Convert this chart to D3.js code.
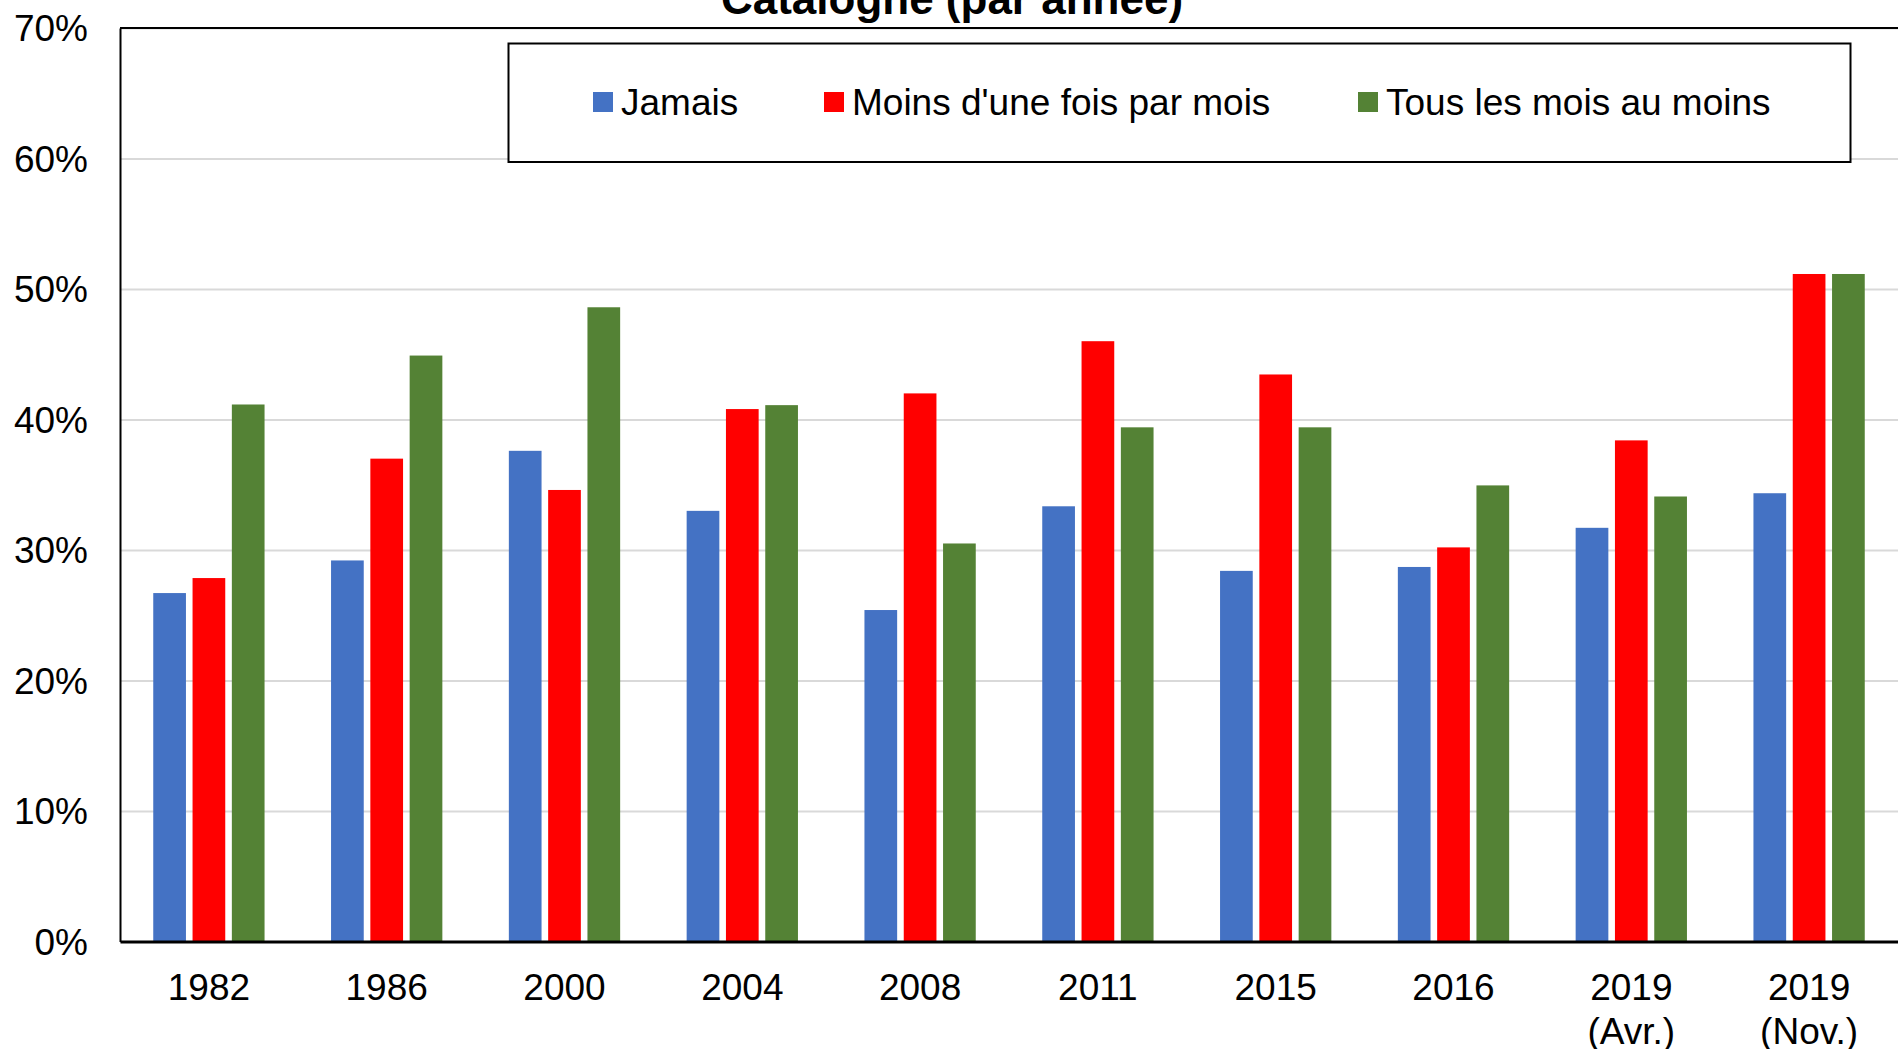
<!DOCTYPE html>
<html>
<head>
<meta charset="utf-8">
<script src="https://cdn.jsdelivr.net/npm/d3@7"></script>
<style>
    body { margin: 0; background: #fff; }
    text { font-family: "Liberation Sans", Arial, sans-serif; fill: #000; }
</style>
</head>
<body>
<div id="chart-container"></div>
<script>
// Data
var categories = ["1982", "1986", "2000", "2004", "2008", "2011", "2015", "2016", "2019\n(Avr.)", "2019\n(Nov.)"];
var series = ["Jamais", "Moins d'une fois par mois", "Tous les mois au moins"];
var jamais = [26.7, 29.2, 37.6, 33.0, 25.4, 33.35, 28.4, 28.7, 31.7, 34.35];
var moinsUneFois = [27.85, 37.0, 34.6, 40.8, 42.0, 46.0, 43.45, 30.2, 38.4, 51.15];
var tousLesMois = [41.15, 44.9, 48.6, 41.1, 30.5, 39.4, 39.4, 34.95, 34.1, 51.15];
var yTicks = [0, 0.1, 0.2, 0.3, 0.4, 0.5, 0.6, 0.7];
var colors = ["#4472C4", "#FF0000", "#548235"];

var values = [jamais, moinsUneFois, tousLesMois];
var data = categories.map(function(c, i) {
    return { cat: c, vals: series.map(function(s, j) { return { key: s, value: values[j][i] / 100 }; }) };
});

// Plot area bounds (in page pixels)
var W = 1898, H = 1049;
var plotLeft = 120, plotRight = 1898, plotTop = 28, plotBottom = 941.5;

var svg = d3.select("#chart-container")
    .append("svg")
    .attr("width", W)
    .attr("height", H);

// Scales
var x0 = d3.scaleBand()
    .domain(categories)
    .range([plotLeft, plotRight])
    .paddingInner(0.374)
    .paddingOuter(0.187);

var x1 = d3.scaleBand()
    .domain(series)
    .range([0, x0.bandwidth()])
    .paddingInner(0.168);

var y = d3.scaleLinear()
    .domain([0, 0.7])
    .range([plotBottom, plotTop]);

var color = d3.scaleOrdinal().domain(series).range(colors);

// Gridlines
svg.append("g")
    .attr("class", "grid")
    .attr("transform", "translate(" + plotLeft + ",0)")
    .call(d3.axisLeft(y).tickValues(yTicks).tickSize(-(plotRight - plotLeft)).tickFormat(""))
    .call(function(g) {
        g.select(".domain").remove();
        g.selectAll("line").attr("stroke", "#d9d9d9").attr("stroke-width", 2);
    });

// Title (mostly cut off at the top)
svg.append("text")
    .attr("x", 952)
    .attr("y", 14)
    .attr("text-anchor", "middle")
    .style("font-size", "44px")
    .style("font-weight", "bold")
    .text("Catalogne (par année)");

// Legend
var legend = svg.append("g").attr("class", "legend");
legend.append("rect")
    .attr("x", 508.5)
    .attr("y", 43.5)
    .attr("width", 1342)
    .attr("height", 118.5)
    .attr("fill", "#fff")
    .attr("stroke", "#000")
    .attr("stroke-width", 2);

var legendX = [593, 824, 1358];
series.forEach(function(s, i) {
    legend.append("rect")
        .attr("x", legendX[i])
        .attr("y", 92)
        .attr("width", 20)
        .attr("height", 20)
        .attr("fill", color(s));
    legend.append("text")
        .attr("x", legendX[i] + 28)
        .attr("y", 115)
        .style("font-size", "37px")
        .text(s);
});

// Bars
var groups = svg.append("g")
    .selectAll("g")
    .data(data)
    .enter().append("g")
    .attr("transform", function(d) { return "translate(" + x0(d.cat) + ",0)"; });

groups.selectAll("rect")
    .data(function(d) { return d.vals; })
    .enter().append("rect")
    .attr("x", function(d) { return x1(d.key); })
    .attr("y", function(d) { return y(d.value); })
    .attr("width", x1.bandwidth())
    .attr("height", function(d) { return plotBottom - y(d.value); })
    .attr("fill", function(d) { return color(d.key); });

// Y axis
svg.append("g")
    .attr("class", "y axis")
    .attr("transform", "translate(" + plotLeft + ",0)")
    .call(d3.axisLeft(y).tickValues(yTicks).tickSize(0).tickPadding(32).tickFormat(d3.format(".0%")))
    .call(function(g) {
        g.select(".domain").attr("stroke", "#000").attr("stroke-width", 2);
        g.selectAll("text").style("font-size", "37px").attr("dy", "0.35em");
    });

// Top border of plot area
svg.append("line")
    .attr("x1", plotLeft)
    .attr("x2", plotRight)
    .attr("y1", plotTop)
    .attr("y2", plotTop)
    .attr("stroke", "#000")
    .attr("stroke-width", 2);

// X axis
svg.append("g")
    .attr("class", "x axis")
    .attr("transform", "translate(0," + plotBottom + ")")
    .call(d3.axisBottom(x0).tickSize(0).tickPadding(0))
    .call(function(g) {
        g.select(".domain").attr("stroke", "#000").attr("stroke-width", 3);
        g.selectAll(".tick text").each(function(d) {
            var t = d3.select(this);
            var lines = d.split("\n");
            t.text(null).attr("y", 0).attr("dy", null).style("font-size", "37px");
            lines.forEach(function(line, i) {
                t.append("tspan")
                    .attr("x", 0)
                    .attr("y", 58 + i * 44)
                    .text(line);
            });
        });
    });
</script>
</body>
</html>
